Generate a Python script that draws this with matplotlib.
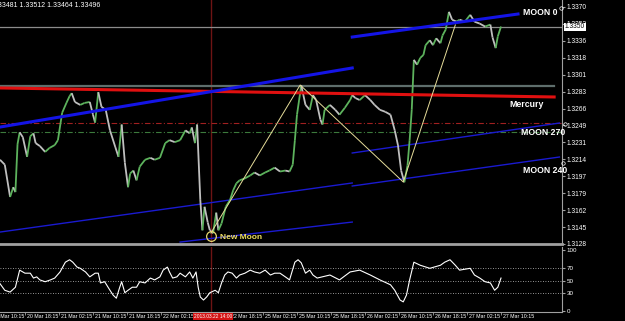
import matplotlib.pyplot as plt
import numpy as np
from matplotlib.collections import LineCollection
from matplotlib.transforms import blended_transform_factory

plt.rcParams['font.family'] = ['Liberation Sans', 'DejaVu Sans']

# x = M15 bar number counted from 20 Mar 10:15 (weekend removed)
bars = [8.5, 13, 18, 21, 23, 25, 27, 30, 34, 37,
        40, 42, 46, 51, 55, 60, 63, 67, 71, 74,
        76, 79, 84, 88, 93, 96, 98, 101, 104, 108,
        112, 117, 120, 123, 126, 129, 131, 134, 137, 140,
        145, 150, 154, 159, 164, 168, 173, 178, 183, 187,
        189, 192, 194, 197, 199, 201, 204, 206, 209, 212,
        214, 217, 221, 225, 228, 231, 234, 239, 244, 248,
        253, 258, 262, 267, 272, 277, 281, 284, 286, 288,
        290, 292, 294, 296, 300, 303, 306, 310, 312, 314,
        319, 324, 328, 333, 338, 340, 343, 347, 352, 357,
        361, 366, 371, 376, 380, 383, 386, 389, 392, 394,
        396, 398, 401, 404, 407, 409, 413, 416, 419, 423,
        425, 428, 431, 434, 438, 441, 446, 451, 455, 460,
        465, 470, 472, 475, 477, 480]
close = [1.3214, 1.3209, 1.3176, 1.3186, 1.3181, 1.3230, 1.3242, 1.3237, 1.3217, 1.3238,
         1.3241, 1.3231, 1.3228, 1.3222, 1.3226, 1.3229, 1.3234, 1.3262, 1.3272, 1.3279,
         1.3282, 1.3273, 1.3270, 1.3272, 1.3273, 1.3260, 1.3252, 1.3283, 1.3268, 1.3265,
         1.3244, 1.3227, 1.3217, 1.3250, 1.3211, 1.3186, 1.3200, 1.3203, 1.3193, 1.3207,
         1.3214, 1.3216, 1.3214, 1.3216, 1.3231, 1.3234, 1.3232, 1.3234, 1.3244, 1.3241,
         1.3247, 1.3231, 1.3250, 1.3173, 1.3142, 1.3166, 1.3150, 1.3142, 1.3139, 1.3160,
         1.3142, 1.3149, 1.3166, 1.3173, 1.3183, 1.3190, 1.3193, 1.3195, 1.3198, 1.3201,
         1.3198, 1.3201, 1.3203, 1.3206, 1.3202, 1.3203, 1.3202, 1.3209, 1.3234, 1.3260,
         1.3275, 1.3290, 1.3280, 1.3270, 1.3265, 1.3280, 1.3275, 1.3255, 1.3250, 1.3265,
         1.3270, 1.3265, 1.3260, 1.3267, 1.3275, 1.3280, 1.3277, 1.3275, 1.3280, 1.3275,
         1.3270, 1.3265, 1.3263, 1.3260, 1.3244, 1.3229, 1.3203, 1.3191, 1.3208, 1.3234,
         1.3265, 1.3316, 1.3311, 1.3318, 1.3321, 1.3331, 1.3336, 1.3331, 1.3338, 1.3333,
         1.3341, 1.3347, 1.3365, 1.3357, 1.3355, 1.3357, 1.3355, 1.3362, 1.3355, 1.3353,
         1.3350, 1.3352, 1.3339, 1.3328, 1.3340, 1.3350]

osc_bars = [8, 13, 18, 23, 27, 32, 37, 40, 43, 46, 51, 56, 60, 65, 70, 74, 77, 81, 84, 89,
            93, 98, 101, 103, 107, 112, 115, 118, 121, 123, 126, 129, 133, 137, 140, 145, 150, 154, 159, 162,
            166, 168, 171, 175, 178, 183, 187, 190, 193, 195, 197, 200, 203, 206, 211, 214, 217, 220, 223, 227,
            231, 234, 239, 244, 248, 253, 258, 263, 267, 272, 277, 281, 286, 289, 292, 296, 300, 303, 307, 319,
            328, 338, 347, 357, 366, 376, 380, 385, 388, 391, 394, 398, 404, 413, 423, 427, 432, 437, 441, 451,
            455, 460, 465, 470, 474, 477, 480]
osc = [46, 34, 31, 39, 67, 62, 62, 54, 56, 51, 48, 51, 54, 64, 80, 84, 80, 72, 70, 64,
       56, 62, 62, 46, 48, 34, 26, 21, 38, 48, 30, 34, 39, 39, 48, 46, 54, 51, 56, 67,
       72, 64, 54, 56, 62, 56, 64, 54, 64, 39, 23, 18, 23, 30, 34, 30, 46, 59, 64, 62,
       54, 59, 62, 67, 64, 62, 67, 59, 62, 62, 56, 51, 80, 84, 79, 62, 67, 59, 54, 59,
       51, 64, 67, 59, 51, 43, 34, 18, 15, 26, 51, 80, 75, 70, 75, 80, 84, 75, 67, 70,
       59, 54, 48, 46, 34, 39, 54]

price_labels = ['1.3128', '1.3145', '1.3162', '1.3179', '1.3197', '1.3214', '1.3231', '1.3249',
                '1.3266', '1.3283', '1.3301', '1.3318', '1.3336', '1.3353', '1.3370']
time_labels = ['20 Mar 10:15', '20 Mar 18:15', '21 Mar 02:15', '21 Mar 10:15', '21 Mar 18:15',
               '22 Mar 02:15', '22 Mar 10:15', '22 Mar 18:15', '25 Mar 02:15', '25 Mar 10:15',
               '25 Mar 18:15', '26 Mar 02:15', '26 Mar 10:15', '26 Mar 18:15', '27 Mar 02:15',
               '27 Mar 10:15']
current_price = 1.33496
new_moon_bar, new_moon_price = 207, 1.3136

fig = plt.figure(figsize=(6.25, 3.21), dpi=100, facecolor='black')
ax = fig.add_axes([0, 77 / 321, 562 / 625, 244 / 321], facecolor='black')
ox = fig.add_axes([0, 9 / 321, 562 / 625, 65 / 321], facecolor='black')

for a in (ax, ox):
    a.set_xlim(8.5, 537.4)
    for s in ('left', 'top'):
        a.spines[s].set_visible(False)
    a.spines['right'].set_color('#a0a0a0')
    a.spines['bottom'].set_color('#a0a0a0')
    a.axvline(new_moon_bar, color='#6e1414', lw=1.0, zorder=1)
ax.spines['bottom'].set_linewidth(2)
ax.set_ylim(1.3128, 1.33771)
ox.set_ylim(-1.6, 104.9)

# price ticks on the right
ax.yaxis.tick_right()
ax.set_yticks(np.linspace(1.3128, 1.3370, 15))
ax.set_yticklabels(price_labels)
ax.tick_params(axis='y', colors='#a0a0a0', labelcolor='white', labelsize=4.8, length=2, pad=1.5)
ax.set_xticks([])

# horizontal objects
ax.axhline(current_price, color='#8c8c8c', lw=0.9, zorder=2)
ax.axhline(1.32518, color='#a02020', lw=0.8, ls=(0, (5, 2, 1, 2)), zorder=2)
ax.axhline(1.32420, color='#3c7a3c', lw=0.8, ls=(0, (5, 2, 1, 2)), zorder=2)
ax.plot([8.5, 530], [1.32893, 1.32893], color='#5e6e6c', lw=1.6, zorder=2)
ax.plot([8.5, 530], [1.32873, 1.32781], color='#e01010', lw=2.2, zorder=4)

# moon trend lines
ax.plot([8.5, 340], [1.32474, 1.33077], color='#1414e6', lw=2.2, zorder=4)
ax.plot([340, 496], [1.33393, 1.33628], color='#1414e6', lw=2.2, zorder=4)
ax.plot([8.5, 340], [1.31402, 1.31903], color='#1a1ad0', lw=1.0, zorder=2)
ax.plot([178, 340], [1.31300, 1.31504], color='#1a1ad0', lw=1.0, zorder=2)
ax.plot([340, 535], [1.32209, 1.32515], color='#1a1ad0', lw=1.0, zorder=2)
ax.plot([340, 535], [1.31872, 1.32168], color='#1a1ad0', lw=1.0, zorder=2)

# price series: green up moves, grey down moves
pts = np.column_stack([bars, close])
segs = np.stack([pts[:-1], pts[1:]], axis=1)
cols = ['#5db35d' if c1 >= c0 else '#bfbfbf' for c0, c1 in zip(close[:-1], close[1:])]
ax.add_collection(LineCollection(segs, colors=cols, linewidths=1.3, zorder=3))

# zigzag
ax.plot([207, 291, 388, 437], [1.31392, 1.32903, 1.31913, 1.33516], color='#e6dd9a', lw=0.7, zorder=5)

# labels
ax.plot([new_moon_bar], [new_moon_price], marker='o', ms=7, mfc='none', mec='#e8d870', mew=0.9, zorder=6)
ax.text(216, 1.31351, 'New Moon', color='#f0e060', fontsize=6, fontweight='bold', va='center', zorder=6)
ax.text(501, 1.33648, 'MOON 0', color='white', fontsize=6.3, fontweight='bold', va='center')
ax.text(488, 1.32709, 'Mercury', color='white', fontsize=6.3, fontweight='bold', va='center')
ax.text(499, 1.32423, 'MOON 270', color='white', fontsize=6.3, fontweight='bold', va='center')
ax.text(501, 1.32035, 'MOON 240', color='white', fontsize=6.3, fontweight='bold', va='center')
ax.plot([536, 540, 538], [1.3369, 1.3250, 1.3211], ls='none', marker='o', ms=2.5,
        mfc='none', mec='white', mew=0.5, clip_on=False, zorder=6)

# current price box
ax.text(1.005, current_price, '1.3350', transform=blended_transform_factory(ax.transAxes, ax.transData),
        color='black', fontsize=4.8, va='center', ha='left', clip_on=False,
        bbox=dict(facecolor='white', edgecolor='none', pad=0.6), zorder=7)

# header
fig.text(-0.012, 0.995, '1.33481 1.33512 1.33464 1.33496', color='white', fontsize=5, va='top', ha='left')

# oscillator
for lvl in (70, 50, 30):
    ox.axhline(lvl, color='#c8c8c8', lw=0.6, ls=(0, (1, 2)))
ox.plot(osc_bars, osc, color='white', lw=0.8)
ox.yaxis.tick_right()
ox.set_yticks([0, 30, 50, 70, 100])
ox.set_yticklabels(['0', '30', '50', '70', '100'])
ox.tick_params(axis='y', colors='#a0a0a0', labelcolor='white', labelsize=4.5, length=2, pad=1.5)

tick_bars = np.arange(0, 481, 32)
ox.set_xticks(tick_bars[1:])
ox.set_xticklabels([])
ox.tick_params(axis='x', colors='#a0a0a0', length=2, width=0.6)
tr = blended_transform_factory(ox.transData, ox.transAxes)
for b, lab in zip(tick_bars, time_labels):
    if lab == '22 Mar 10:15':
        continue
    ox.text(b + 1.5, -0.07, lab, transform=tr, color='white', fontsize=3.8,
            ha='left', va='center', clip_on=False)
ox.text(new_moon_bar + 2, -0.07, '2013.03.22 14:00', transform=tr, color='white', fontsize=3.5,
        ha='center', va='center', clip_on=False,
        bbox=dict(facecolor='#d41414', edgecolor='none', pad=0.5))

fig.savefig('out.png', dpi=100, facecolor='black')
